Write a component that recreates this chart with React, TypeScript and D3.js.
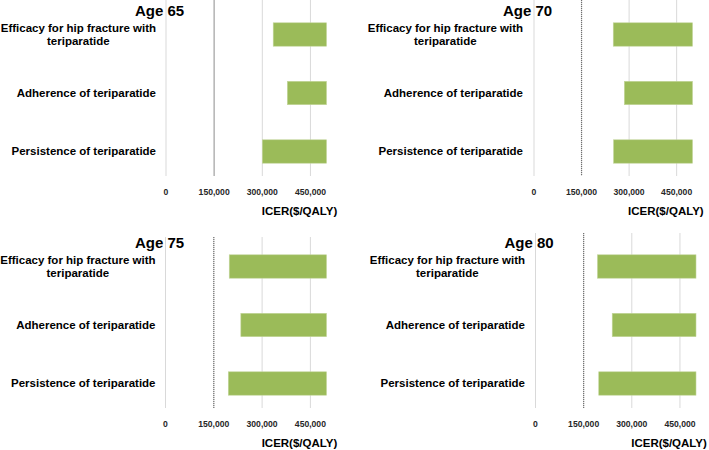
import React, { useEffect, useRef } from "react";
import * as d3 from "d3";

const categories = [
  ["Efficacy for hip fracture with", "teriparatide"],
  ["Adherence of teriparatide"],
  ["Persistence of teriparatide"],
];
const categoryKeys = ["efficacy", "adherence", "persistence"];
const panelTitles = ["Age 65", "Age 70", "Age 75", "Age 80"];
const lowValues = [
  [334000, 378000, 300000],
  [250000, 285000, 251000],
  [198000, 234000, 195000],
  [193000, 239000, 197000],
];
const highValues = [
  [500000, 500000, 500000],
  [500000, 500000, 500000],
  [500000, 500000, 500000],
  [500000, 500000, 500000],
];
const tickValues = [0, 150000, 300000, 450000];
const threshold = 150000;
const axisTitle = "ICER($/QALY)";

// layout per panel (pixels)
const layouts = [
  { x0: 166, x1: 326.5, labelRight: 156, oy: 0, gridTop: 0, dotted: false, titleX: 159.5 },
  { x0: 534, x1: 692.5, labelRight: 523, oy: 0, gridTop: 0, dotted: true, titleX: 527.5 },
  { x0: 165.5, x1: 326.5, labelRight: 155.5, oy: 232, gridTop: 5, dotted: true, titleX: 159.5 },
  { x0: 535.5, x1: 696, labelRight: 525, oy: 232, gridTop: 1, dotted: true, titleX: 529 },
];

export default function App() {
  const ref = useRef<SVGSVGElement>(null);

  useEffect(() => {
    const svg = d3.select(ref.current);
    svg.selectAll("*").remove();
    const font = "'Liberation Sans', Arial, sans-serif";

    layouts.forEach((L, pi) => {
      const g = svg.append("g");
      const x = d3.scaleLinear().domain([0, 500000]).range([L.x0, L.x1]);
      const gridTop = L.oy + L.gridTop;
      const gridBottom = L.oy + 176;
      const bandTop = L.oy + 5.25;
      const y = d3
        .scaleBand<string>()
        .domain(categoryKeys)
        .range([bandTop, bandTop + 175.5])
        .paddingInner(0.6)
        .paddingOuter(0.3);

      // gridlines
      g.selectAll("line.grid")
        .data(tickValues)
        .enter()
        .append("line")
        .attr("x1", (d) => x(d))
        .attr("x2", (d) => x(d))
        .attr("y1", gridTop)
        .attr("y2", gridBottom)
        .attr("stroke", "#d9d9d9")
        .attr("stroke-width", 1);

      // threshold line
      g.append("line")
        .attr("x1", x(threshold))
        .attr("x2", x(threshold))
        .attr("y1", gridTop)
        .attr("y2", gridBottom)
        .attr("stroke", L.dotted ? "#6f6f6f" : "#ababab")
        .attr("stroke-width", 1.2)
        .attr("stroke-dasharray", L.dotted ? "1,1" : null);

      // bars
      g.selectAll("rect.bar")
        .data(categoryKeys)
        .enter()
        .append("rect")
        .attr("x", (_d, i) => x(lowValues[pi][i]))
        .attr("width", (_d, i) => x(highValues[pi][i]) - x(lowValues[pi][i]))
        .attr("y", (d) => y(d) as number)
        .attr("height", y.bandwidth())
        .attr("fill", "#9bbb59")
        .attr("stroke", "#c3d69b")
        .attr("stroke-width", 0.6);

      // tick labels
      g.selectAll("text.tick")
        .data(tickValues)
        .enter()
        .append("text")
        .attr("x", (d) => x(d))
        .attr("y", L.oy + 194.5)
        .attr("text-anchor", "middle")
        .attr("font-family", font)
        .attr("font-weight", "bold")
        .attr("font-size", 8.6)
        .attr("fill", "#262626")
        .text((d) => d3.format(",")(d));

      // axis title
      g.append("text")
        .attr("x", L.x0 + 0.832 * (L.x1 - L.x0))
        .attr("y", L.oy + 214.5)
        .attr("text-anchor", "middle")
        .attr("font-family", font)
        .attr("font-weight", "bold")
        .attr("font-size", 11.5)
        .attr("fill", "#000")
        .text(axisTitle);

      // panel title
      g.append("text")
        .attr("x", L.titleX)
        .attr("y", L.oy + 16.3)
        .attr("text-anchor", "middle")
        .attr("font-family", font)
        .attr("font-weight", "bold")
        .attr("font-size", 15)
        .attr("fill", "#000")
        .text(panelTitles[pi]);

      // category labels
      categoryKeys.forEach((k, ci) => {
        const lines = categories[ci];
        const cy = (y(k) as number) + y.bandwidth() / 2;
        const t = g
          .append("text")
          .attr("font-family", font)
          .attr("font-weight", "bold")
          .attr("font-size", 11.5)
          .attr("fill", "#000");
        const spans = lines.map((ln, li) =>
          t
            .append("tspan")
            .attr("y", cy + 3.8 + (li - (lines.length - 1) / 2) * 13)
            .text(ln)
        );
        const widths = spans.map((s) => (s.node() as SVGTSpanElement).getComputedTextLength());
        const maxW = Math.max(...widths);
        const cx = L.labelRight - maxW / 2;
        spans.forEach((s) => s.attr("x", cx).attr("text-anchor", "middle"));
      });
    });
  }, []);

  return (
    <svg
      ref={ref}
      width={709}
      height={450}
      style={{ position: "absolute", left: 0, top: 0, background: "#fff" }}
    />
  );
}
